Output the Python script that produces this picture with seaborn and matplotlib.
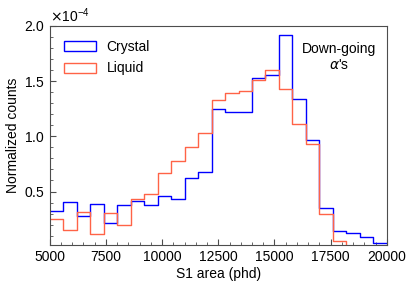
import numpy as np
import pandas as pd
import matplotlib
matplotlib.use("Agg")
import matplotlib.pyplot as plt
import seaborn as sns
from matplotlib.patches import Patch
from matplotlib.ticker import MultipleLocator, ScalarFormatter

# ----- données (en unités de 1e-4) -----
bin_edges = list(range(5000, 20001, 600))
crystal = [0.327, 0.403, 0.282, 0.385, 0.218, 0.379, 0.418, 0.382, 0.464, 0.436,
           0.627, 0.673, 1.249, 1.218, 1.221, 1.525, 1.555, 1.915, 1.340, 0.964,
           0.355, 0.145, 0.122, 0.085, 0.031]
liquid = [0.255, 0.152, 0.315, 0.118, 0.306, 0.200, 0.434, 0.479, 0.667, 0.779,
          0.906, 1.028, 1.327, 1.392, 1.412, 1.506, 1.600, 1.425, 1.113, 0.927,
          0.297, 0.049, 0.0, 0.0, 0.0]
labels = ["Crystal", "Liquid"]
colors = ["#0000ff", "#ff6347"]

edges = np.array(bin_edges)
centers = (edges[:-1] + edges[1:]) / 2
df = pd.DataFrame({
    "s1": np.concatenate([centers, centers]),
    "w": np.concatenate([crystal, liquid]) * 1e-4,
    "sample": [labels[0]] * len(centers) + [labels[1]] * len(centers),
})

# ----- style -----
sns.set_style("ticks")
plt.rcParams["font.family"] = ["Liberation Sans", "DejaVu Sans"]
plt.rcParams["mathtext.fontset"] = "dejavusans"
for k in ["text.color", "axes.labelcolor", "xtick.color", "ytick.color"]:
    plt.rcParams[k] = "black"

fig = plt.figure(figsize=(4.15, 2.88), dpi=100)
ax = fig.add_axes([0.12, 0.149, 0.812, 0.761])

for lab, col in zip(labels, colors):
    sns.histplot(data=df[df["sample"] == lab], x="s1", weights="w", bins=bin_edges,
                 element="step", fill=False, color=col, linewidth=1.0, ax=ax)

ax.set_xlim(5000, 20000)
ax.set_ylim(0.015e-4, 2.0e-4)
ax.xaxis.set_major_locator(MultipleLocator(2500))
ax.xaxis.set_minor_locator(MultipleLocator(500))
ax.yaxis.set_major_locator(MultipleLocator(0.5e-4))
ax.yaxis.set_minor_locator(MultipleLocator(0.1e-4))
fmt = ScalarFormatter(useMathText=True)
fmt.set_powerlimits((-3, 3))
ax.yaxis.set_major_formatter(fmt)
ax.yaxis.get_offset_text().set_fontsize(10)
ax.tick_params(which="both", direction="in", top=False, right=False, labelsize=10,
               color="0.3")
ax.tick_params(which="major", length=4)
ax.tick_params(which="minor", length=2)
for s in ax.spines.values():
    s.set_color("0.3")
    s.set_visible(True)

ax.set_xlabel("S1 area (phd)", fontsize=10, labelpad=2)
ax.set_ylabel("Normalized counts", fontsize=10, labelpad=3)

handles = [Patch(facecolor="none", edgecolor=c, linewidth=1.0) for c in colors]
ax.legend(handles, labels, loc="upper left", frameon=False, fontsize=10,
          handlelength=2.3, handleheight=0.75, borderaxespad=0.6, labelspacing=0.55)

ax.text(0.858, 0.858, "Down-going\n$\\alpha$'s", transform=ax.transAxes,
        ha="center", va="center", fontsize=10, linespacing=1.1)

fig.savefig("out.png", dpi=100)
